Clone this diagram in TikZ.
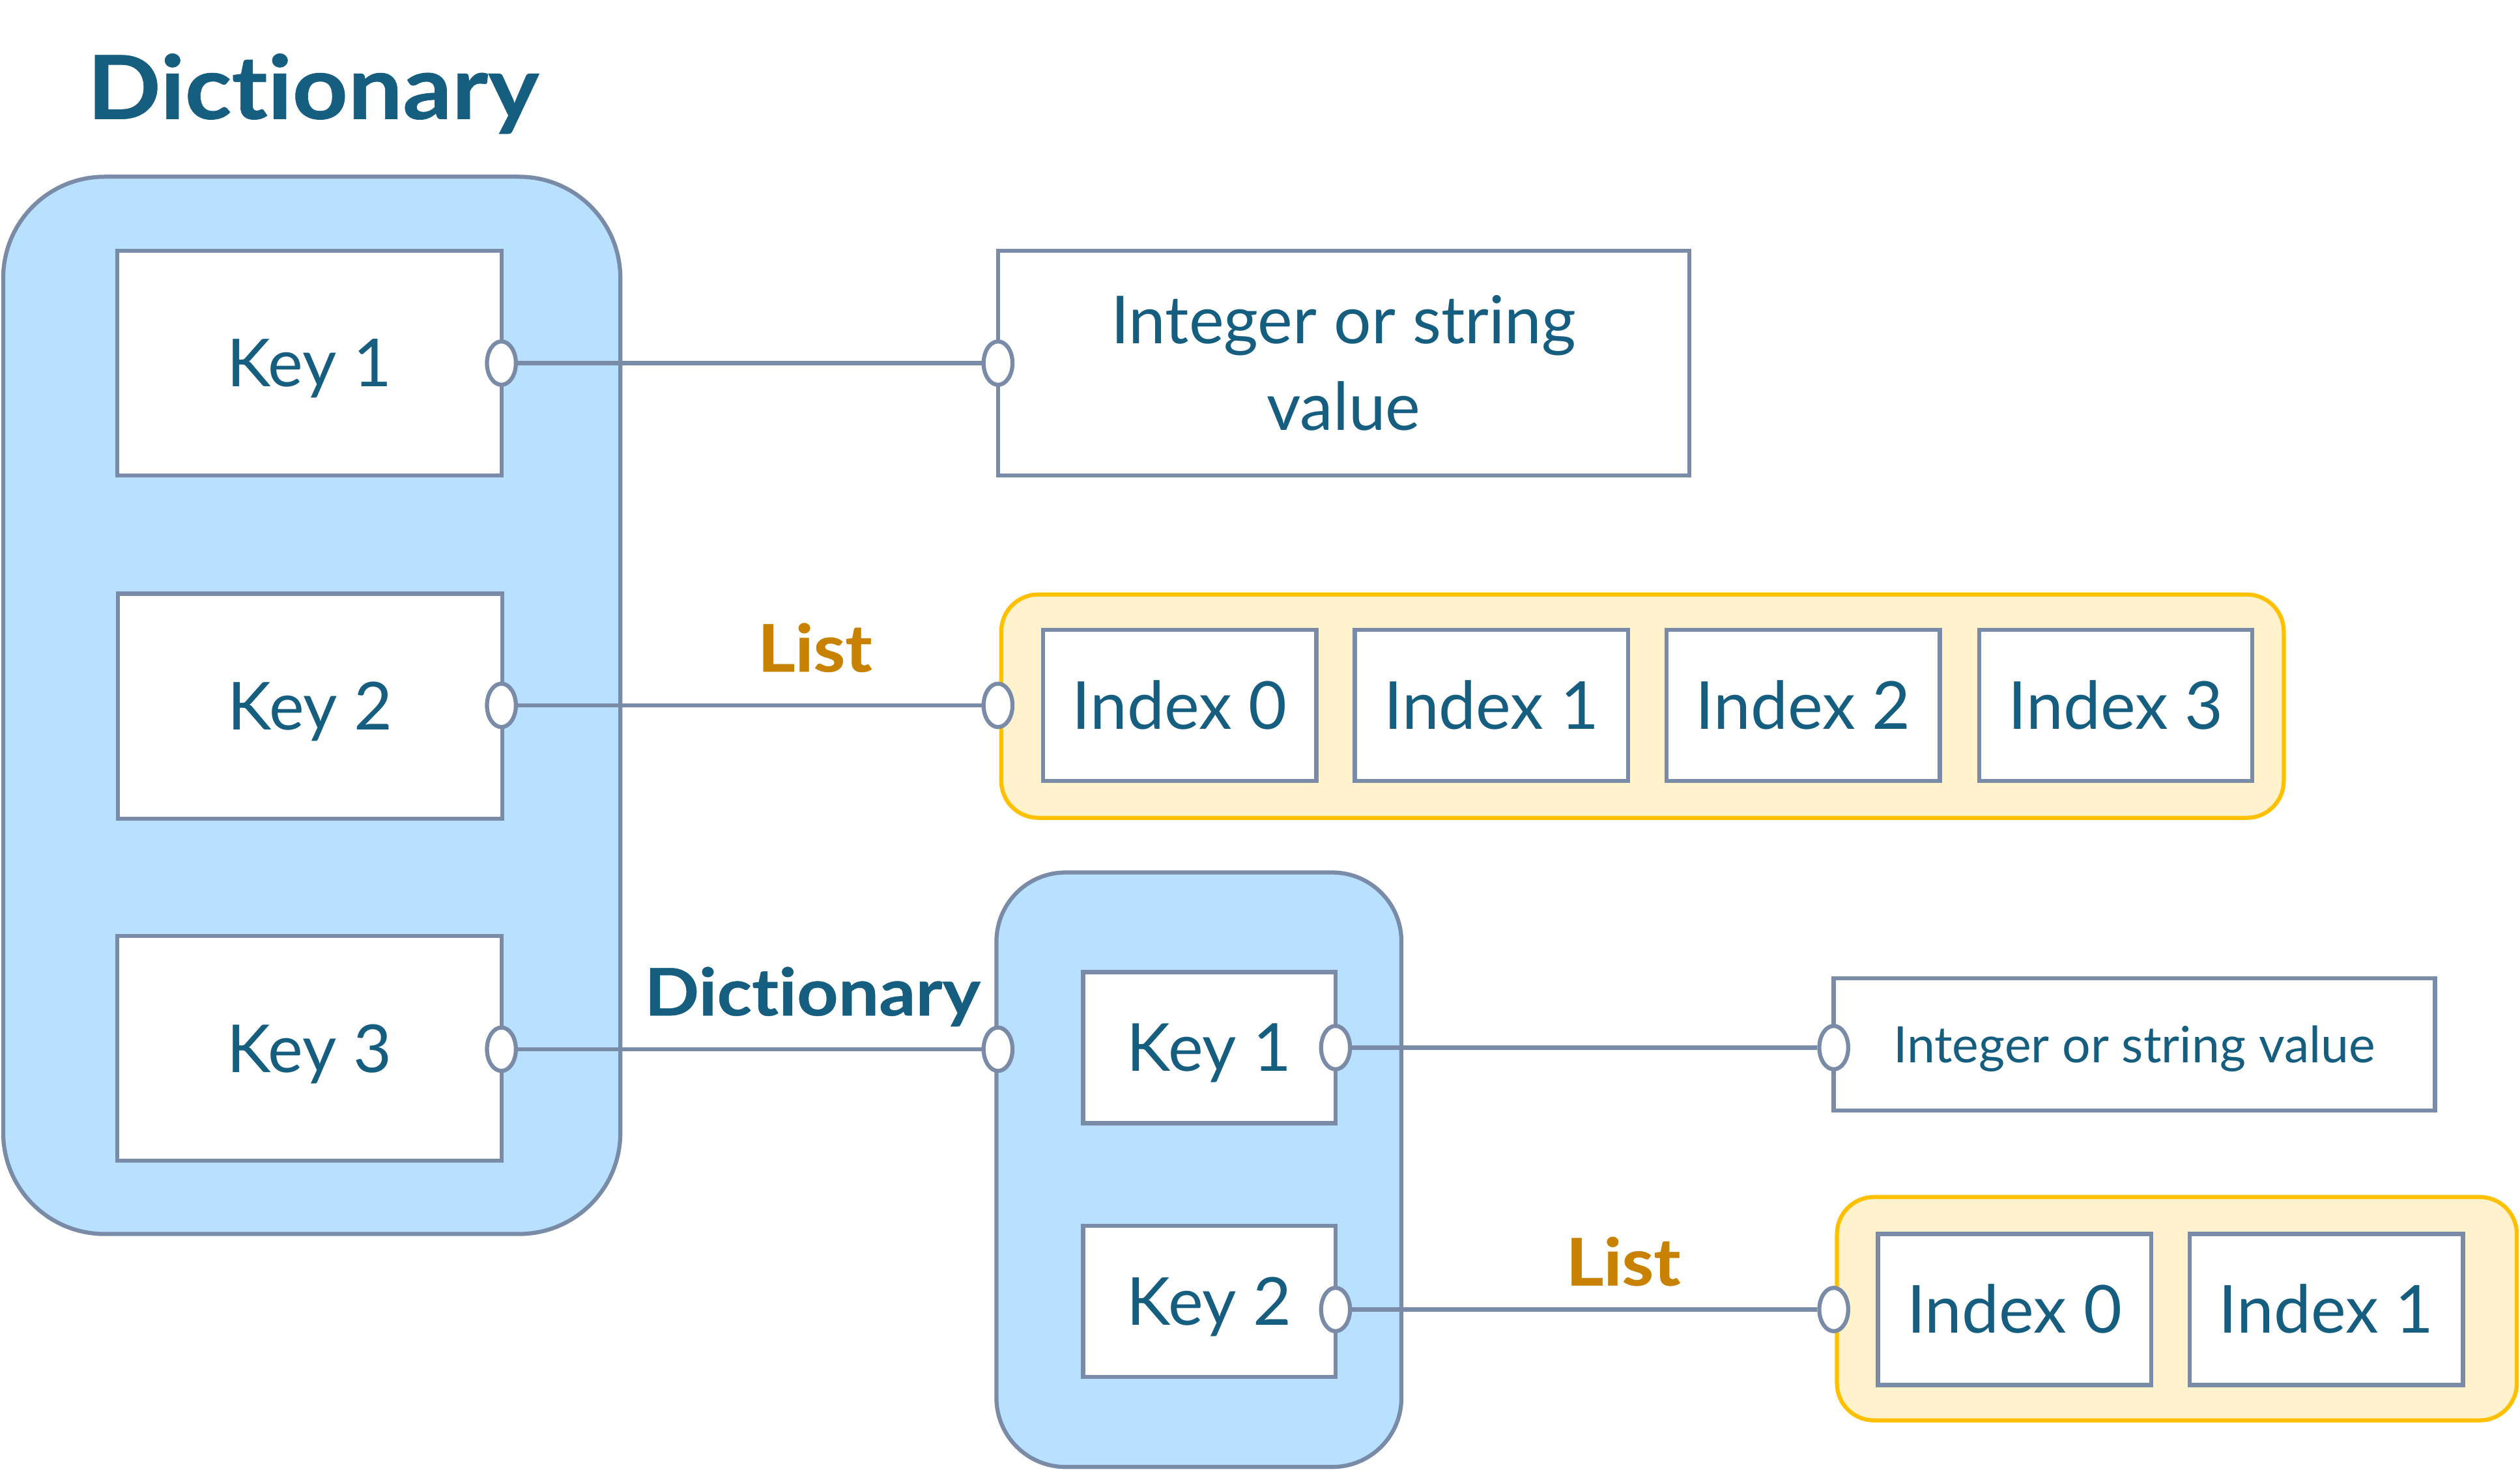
\documentclass[tikz,border=0pt]{standalone}
\usepackage{fontspec}
\setmainfont{Lato}[Ligatures=NoCommon]
\newfontfamily\heavyfont{Lato}[Ligatures=NoCommon,FakeStretch=1.1,FakeBold=0.5]
\usetikzlibrary{fit,shapes.geometric}
\definecolor{txt}{RGB}{22,94,128}
\definecolor{edge}{RGB}{122,139,167}
\definecolor{dictblue}{RGB}{183,225,254}
\definecolor{goldtxt}{RGB}{201,130,0}
\definecolor{listedge}{RGB}{255,192,0}
\definecolor{listfill}{RGB}{255,242,204}
\begin{document}
\begin{tikzpicture}[x=0.025cm,y=-0.025cm,line width=1.8pt,
  rect/.style={draw=edge,fill=white,inner sep=0pt,text=txt,font=\fontsize{29.3pt}{38.4pt}\selectfont},
  box/.style={rect,text height=21pt,text depth=0pt},
  smallbox/.style={rect,font=\fontsize{22.2pt}{27pt}\selectfont,text height=15.9pt,text depth=0pt},
  keybox/.style={box,minimum width=5.975cm,minimum height=3.5cm},
  idxbox/.style={box,minimum width=4.25cm,minimum height=2.35cm},
  ikeybox/.style={box,minimum width=3.925cm,minimum height=2.35cm},
  dict/.style={draw=edge,fill=dictblue,inner sep=0pt},
  lst/.style={draw=listedge,fill=listfill,inner sep=0pt,rounded corners=0.575cm},
  port/.style={ellipse,draw=edge,fill=white,inner sep=0pt,minimum width=12.8pt,minimum height=19.2pt},
  conn/.style={draw=edge},
  lbl/.style={font=\heavyfont\bfseries\fontsize{29pt}{35pt}\selectfont,anchor=base,inner sep=0pt}]
\useasboundingbox (0,0) rectangle (1568,915.8);

% title
\node[anchor=base west,inner sep=0pt,text=txt,font=\heavyfont\bfseries\fontsize{39pt}{45pt}\selectfont] (title) at (53,74) {Dictionary};

% containers
\node[dict,rounded corners=1.575cm,fit={(2,110) (386,768)}] (bigdict) {};
\node[dict,rounded corners=1.075cm,fit={(620,543) (872,913)}] (smalldict) {};
\node[lst,fit={(623,370) (1421,509)}] (list1) {};
\node[lst,fit={(1143,745) (1566,884)}] (list2) {};

% keys of the outer dictionary
\node[keybox] (key1) at (192.5,226) {Key 1};
\node[keybox] (key2) at (193,439.5) {Key 2};
\node[keybox] (key3) at (192.5,652.5) {Key 3};

% value box 1
\node[rect,align=center,minimum width=10.75cm,minimum height=3.5cm] (val1) at (836,226) {Integer or string\\value};

% list 1
\node[idxbox] (l1i0) at (734,439) {Index 0};
\node[idxbox] (l1i1) at (928,439) {Index 1};
\node[idxbox] (l1i2) at (1122,439) {Index 2};
\node[idxbox] (l1i3) at (1316.5,439) {Index 3};

% inner dictionary keys
\node[ikeybox] (ikey1) at (752.5,652) {Key 1};
\node[ikeybox] (ikey2) at (752.5,810) {Key 2};

% value box 2
\node[smallbox,minimum width=9.35cm,minimum height=2.05cm] (val2) at (1328,650) {Integer or string value};

% list 2
\node[idxbox] (l2i0) at (1253.5,815) {Index 0};
\node[idxbox] (l2i1) at (1447.5,815) {Index 1};

% ports
\node[port] (p1a) at (312,226) {};
\node[port] (p1b) at (621,226) {};
\node[port] (p2a) at (312,439) {};
\node[port] (p2b) at (621,439) {};
\node[port] (p3a) at (312,653) {};
\node[port] (p3b) at (621,653) {};
\node[port] (p4a) at (831,652) {};
\node[port] (p4b) at (1141,652) {};
\node[port] (p5a) at (831,815) {};
\node[port] (p5b) at (1141,815) {};

% connectors
\draw[conn] (p1a) -- (p1b);
\draw[conn] (p2a) -- (p2b);
\draw[conn] (p3a) -- (p3b);
\draw[conn] (p4a) -- (p4b);
\draw[conn] (p5a) -- (p5b);

% connector labels
\node[lbl,text=goldtxt] (lab1) at (507,418) {List};
\node[lbl,text=txt] (lab2) at (505.5,632) {Dictionary};
\node[lbl,text=goldtxt] (lab3) at (1010,800) {List};
\end{tikzpicture}
\end{document}
